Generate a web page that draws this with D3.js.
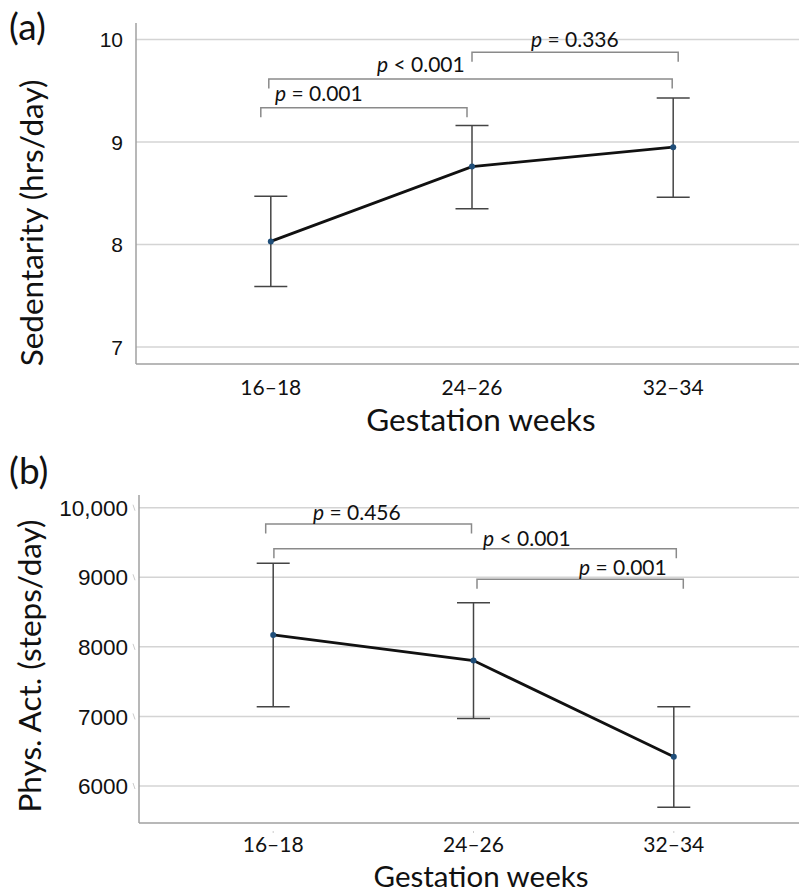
<!DOCTYPE html>
<meta charset="utf-8">
<style>
body { margin: 0; background: #fff; }
text { fill: #111; }
</style>
<svg width="799" height="894"></svg>
<script src="https://d3js.org/d3.v7.min.js"></script>
<script>
// weeks of gestation on the x axis, same for both panels
var weeks = ["16–18", "24–26", "32–34"];

// (a) sedentary time, hrs/day
var sedMean = [8.03, 8.76, 8.95];
var sedLow = [7.59, 8.35, 8.46];
var sedHigh = [8.47, 9.16, 9.43];
var sedTicks = [7, 8, 9, 10];
var sedPairs = [["16–18", "24–26"], ["16–18", "32–34"], ["24–26", "32–34"]];
var sedLabels = ["= 0.001", "< 0.001", "= 0.336"];

// (b) steps per day
var stepMean = [8172, 7803, 6420];
var stepLow = [7138, 6971, 5694];
var stepHigh = [9201, 8635, 7138];
var stepTicks = [6000, 7000, 8000, 9000, 10000];
var stepPairs = [["16–18", "24–26"], ["16–18", "32–34"], ["24–26", "32–34"]];
var stepLabels = ["= 0.456", "< 0.001", "= 0.001"];

var svg = d3.select("svg");
var cal = "Lato, 'Open Sans', sans-serif";
var arial = "'Liberation Sans', Arial, sans-serif";

function panel(o) {
  var g = svg.append("g");
  var x = d3.scalePoint().domain(weeks).range([o.left, 808]).padding(0.67);
  var y = d3.scaleLinear().domain(o.domain).range(o.range);

  // gridlines
  g.selectAll(".grid").data(o.ticks).enter().append("line")
    .attr("x1", o.left).attr("x2", 799)
    .attr("y1", function(d) { return y(d); }).attr("y2", function(d) { return y(d); })
    .attr("stroke", "#d4d4d4").attr("stroke-width", 1.5);

  // axis lines
  g.append("line").attr("x1", o.left).attr("x2", o.left)
    .attr("y1", o.axisTop).attr("y2", o.axisBottom)
    .attr("stroke", "#a0a0a0").attr("stroke-width", 1.5);
  g.append("line").attr("x1", o.left).attr("x2", 799)
    .attr("y1", o.axisBottom).attr("y2", o.axisBottom)
    .attr("stroke", "#a0a0a0").attr("stroke-width", 1.5);

  // tiny tick marks (panel b only)
  if (o.smallTicks) {
    g.selectAll(".yt").data(o.ticks).enter().append("line")
      .attr("x1", o.left - 6).attr("x2", o.left - 4)
      .attr("y1", function(d) { return y(d) - 3; }).attr("y2", function(d) { return y(d) + 3; })
      .attr("stroke", "#ccc").attr("stroke-width", 1);
    g.selectAll(".xt").data(weeks).enter().append("line")
      .attr("x1", function(d) { return x(d); }).attr("x2", function(d) { return x(d); })
      .attr("y1", o.axisBottom + 8).attr("y2", o.axisBottom + 10)
      .attr("stroke", "#ccc").attr("stroke-width", 1);
  }

  // y tick labels
  g.selectAll(".yl").data(o.ticks).enter().append("text")
    .style("font-family", arial).style("font-size", o.tickSize + "px")
    .attr("x", o.left - o.labelGap).attr("y", function(d) { return y(d); })
    .attr("dy", "0.36em").attr("text-anchor", "end")
    .text(o.fmt);

  // x tick labels
  g.selectAll(".xl").data(weeks).enter().append("text")
    .style("font-family", cal).style("font-size", "21px")
    .attr("x", function(d) { return x(d); }).attr("y", o.axisBottom + o.xlabGap)
    .attr("text-anchor", "middle")
    .text(function(d) { return d; });

  // axis titles
  g.append("text").style("font-family", cal).style("font-size", o.xtitleSize + "px")
    .attr("x", 481).attr("y", o.axisBottom + o.xtitleGap).attr("text-anchor", "middle")
    .text("Gestation weeks");
  g.append("text").style("font-family", cal).style("font-size", "31.5px")
    .attr("transform", "translate(" + o.titleX + "," + o.titleY + ") rotate(-90)")
    .attr("text-anchor", "middle")
    .text(o.yTitle);
  g.append("text").style("font-family", cal).style("font-size", "37px")
    .attr("x", 9).attr("y", o.panelY).text(o.panel);

  // significance brackets
  o.pairs.forEach(function(p, i) {
    var b = o.brackets[i];
    var x1 = x(p[0]) + b.dx1, x2 = x(p[1]) + b.dx2;
    g.append("path")
      .attr("d", "M" + x1 + "," + (b.y + 9.5) + "V" + b.y + "H" + x2 + "V" + (b.y + 9.5))
      .attr("fill", "none").attr("stroke", "#8a8a8a").attr("stroke-width", 1.5);
    var t = g.append("text").style("font-family", cal).style("font-size", "21px")
      .attr("x", b.lx).attr("y", b.ly);
    t.append("tspan").style("font-style", "italic").text("p");
    t.append("tspan").text(" " + o.labels[i]);
  });

  // error bars
  weeks.forEach(function(w, i) {
    var cx = x(w);
    g.append("line").attr("x1", cx).attr("x2", cx)
      .attr("y1", y(o.low[i])).attr("y2", y(o.high[i]))
      .attr("stroke", "#444").attr("stroke-width", 1.5);
    [o.low[i], o.high[i]].forEach(function(v) {
      g.append("line").attr("x1", cx - 16.5).attr("x2", cx + 16.5)
        .attr("y1", y(v)).attr("y2", y(v))
        .attr("stroke", "#444").attr("stroke-width", 1.5);
    });
  });

  // mean line + points
  g.append("path").datum(o.mean)
    .attr("d", d3.line().x(function(d, i) { return x(weeks[i]); }).y(function(d) { return y(d); }))
    .attr("fill", "none").attr("stroke", "#111").attr("stroke-width", 2.8);
  g.selectAll(".pt").data(o.mean).enter().append("circle")
    .attr("cx", function(d, i) { return x(weeks[i]); }).attr("cy", function(d) { return y(d); })
    .attr("r", 3).attr("fill", "#1f4e79");
}

panel({
  left: 136, domain: [7, 10], range: [347, 39.5], axisTop: 23, axisBottom: 364,
  ticks: sedTicks, fmt: d3.format("d"), labelGap: 13, tickSize: 21, smallTicks: false,
  xlabGap: 31, xtitleGap: 67, xtitleSize: 31.5,
  mean: sedMean, low: sedLow, high: sedHigh,
  pairs: sedPairs, labels: sedLabels,
  brackets: [
    { y: 107.7, dx1: -10, dx2: -5, lx: 275, ly: 101 },
    { y: 79, dx1: -2, dx2: -1, lx: 377, ly: 72 },
    { y: 52.3, dx1: 0, dx2: 5, lx: 531, ly: 47 }
  ],
  yTitle: "Sedentarity (hrs/day)", titleX: 43, titleY: 223,
  panel: "(a)", panelY: 40
});

panel({
  left: 139, domain: [6000, 10000], range: [786, 507.7], axisTop: 495, axisBottom: 823,
  ticks: stepTicks, fmt: function(d) { return d >= 10000 ? d3.format(",")(d) : d; },
  labelGap: 11, tickSize: 22.5, smallTicks: true,
  xlabGap: 29, xtitleGap: 64, xtitleSize: 29.5,
  mean: stepMean, low: stepLow, high: stepHigh,
  pairs: stepPairs, labels: stepLabels,
  brackets: [
    { y: 524, dx1: -7.5, dx2: -2, lx: 313, ly: 520 },
    { y: 548.7, dx1: 0.7, dx2: 2.5, lx: 483, ly: 546 },
    { y: 579.3, dx1: 3.5, dx2: 9.5, lx: 579, ly: 575 }
  ],
  yTitle: "Phys. Act. (steps/day)", titleX: 41, titleY: 666,
  panel: "(b)", panelY: 484
});
</script>
